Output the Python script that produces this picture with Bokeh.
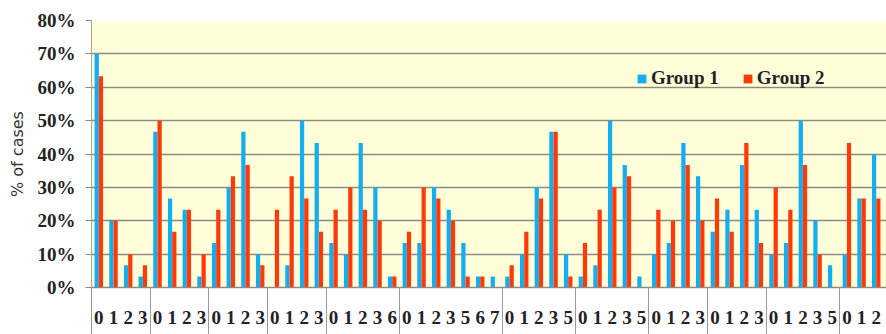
from bokeh.plotting import figure
from bokeh.models import (Range1d, FixedTicker, PrintfTickFormatter, ColumnDataSource,
                          Legend, LegendItem)
from bokeh.transform import dodge
from bokeh.embed import file_html
from bokeh.resources import INLINE

# Response categories per question block
group_categories = [
    ["0", "1", "2", "3"],
    ["0", "1", "2", "3"],
    ["0", "1", "2", "3"],
    ["0", "1", "2", "3"],
    ["0", "1", "2", "3", "6"],
    ["0", "1", "2", "3", "5", "6", "7"],
    ["0", "1", "2", "3", "5"],
    ["0", "1", "2", "3", "5"],
    ["0", "1", "2", "3"],
    ["0", "1", "2", "3"],
    ["0", "1", "2", "3", "5"],
    ["0", "1", "2", "3"],
]

# % of cases, Group 1
group1_pct = [
    [70, 20, 6.7, 3.3],
    [46.7, 26.7, 23.3, 3.3],
    [13.3, 30, 46.7, 10],
    [0, 6.7, 50, 43.3],
    [13.3, 10, 43.3, 30, 3.3],
    [13.3, 13.3, 30, 23.3, 13.3, 3.3, 3.3],
    [3.3, 10, 30, 46.7, 10],
    [3.3, 6.7, 50, 36.7, 3.3],
    [10, 13.3, 43.3, 33.3],
    [16.7, 23.3, 36.7, 23.3],
    [10, 13.3, 50, 20, 6.7],
    [10, 26.7, 40, 23.3],
]

# % of cases, Group 2
group2_pct = [
    [63.3, 20, 10, 6.7],
    [50, 16.7, 23.3, 10],
    [23.3, 33.3, 36.7, 6.7],
    [23.3, 33.3, 26.7, 16.7],
    [23.3, 30, 23.3, 20, 3.3],
    [16.7, 30, 26.7, 20, 3.3, 3.3, 0],
    [6.7, 16.7, 26.7, 46.7, 3.3],
    [13.3, 23.3, 30, 33.3, 0],
    [23.3, 20, 36.7, 20],
    [26.7, 16.7, 43.3, 13.3],
    [30, 23.3, 36.7, 10, 0],
    [43.3, 26.7, 26.7, 3.3],
]

y_ticks = [0, 10, 20, 30, 40, 50, 60, 70, 80]

BLUE = "#14AEF0"
RED = "#FF3A0A"
GRID = "#8A8A8A"
SERIF = "Liberation Serif"

# flatten the blocks into one numeric category axis
labels, g1, g2, boundaries = [], [], [], []
for cats, a, b in zip(group_categories, group1_pct, group2_pct):
    boundaries.append(len(labels) - 0.5)
    labels.extend(cats)
    g1.extend(a)
    g2.extend(b)
boundaries.append(len(labels) - 0.5)
xs = list(range(len(labels)))

src = ColumnDataSource(dict(x=xs, g1=g1, g2=g2))

p = figure(width=886, height=334, output_backend="svg", toolbar_location=None,
           x_range=Range1d(-0.5, 53.7), y_range=Range1d(0, 80),
           min_border_left=91, min_border_right=0, min_border_top=20,
           min_border_bottom=47)
p.background_fill_color = "#FFFFD9"
p.border_fill_color = "white"
p.outline_line_color = None

bw = 0.29
r1 = p.vbar(x=dodge("x", -bw / 2, range=p.x_range), top="g1", width=bw,
            source=src, fill_color=BLUE, line_color=None)
r2 = p.vbar(x=dodge("x", bw / 2, range=p.x_range), top="g2", width=bw,
            source=src, fill_color=RED, line_color=None)

# x axis: category labels, long separators between blocks
SEP_LEN = 60
p.xaxis.ticker = FixedTicker(ticks=xs, minor_ticks=boundaries)
p.xaxis.major_label_overrides = {i: lab for i, lab in enumerate(labels)}
p.xaxis.major_tick_line_color = None
p.xaxis.major_tick_out = 0
p.xaxis.major_tick_in = 0
p.xaxis.minor_tick_out = SEP_LEN
p.xaxis.minor_tick_in = 0
p.xaxis.minor_tick_line_color = "#9A9A9A"
p.xaxis.axis_line_color = GRID
p.xaxis.axis_line_width = 1.5
# the separators count toward the tick extent, so pull the labels back up
p.xaxis.major_label_standoff = 23 - SEP_LEN
p.xaxis.major_label_text_font = SERIF
p.xaxis.major_label_text_font_style = "bold"
p.xaxis.major_label_text_font_size = "19px"
p.xaxis.major_label_text_color = "#222222"
p.xgrid.visible = False

# y axis
p.yaxis.ticker = FixedTicker(ticks=y_ticks)
p.yaxis.formatter = PrintfTickFormatter(format="%d%%")
p.yaxis.minor_tick_line_color = None
p.yaxis.major_tick_out = 6
p.yaxis.major_tick_in = 0
p.yaxis.major_tick_line_color = GRID
p.yaxis.axis_line_color = "#A6A6A6"
p.yaxis.major_label_standoff = 10
p.yaxis.major_label_text_font = SERIF
p.yaxis.major_label_text_font_style = "bold"
p.yaxis.major_label_text_font_size = "19px"
p.yaxis.major_label_text_color = "#222222"
p.yaxis.axis_label = "% of cases"
p.yaxis.axis_label_text_font = "DejaVu Sans"
p.yaxis.axis_label_text_font_style = "normal"
p.yaxis.axis_label_text_font_size = "16px"
p.yaxis.axis_label_text_color = "#333333"
p.yaxis.axis_label_standoff = 8
p.ygrid.ticker = FixedTicker(ticks=y_ticks)
p.ygrid.grid_line_color = GRID
p.ygrid.grid_line_width = 1.5

legend = Legend(items=[LegendItem(label="Group 1", renderers=[r1]),
                       LegendItem(label="Group 2", renderers=[r2])],
                location=(545, 198), orientation="horizontal",
                glyph_width=11, glyph_height=11, label_standoff=4, spacing=23,
                padding=0, margin=0, border_line_color=None,
                background_fill_alpha=0,
                label_text_font=SERIF, label_text_font_style="bold",
                label_text_font_size="19px", label_text_color="#222222")
p.add_layout(legend)

open("out.html", "w").write(file_html(p, INLINE))
